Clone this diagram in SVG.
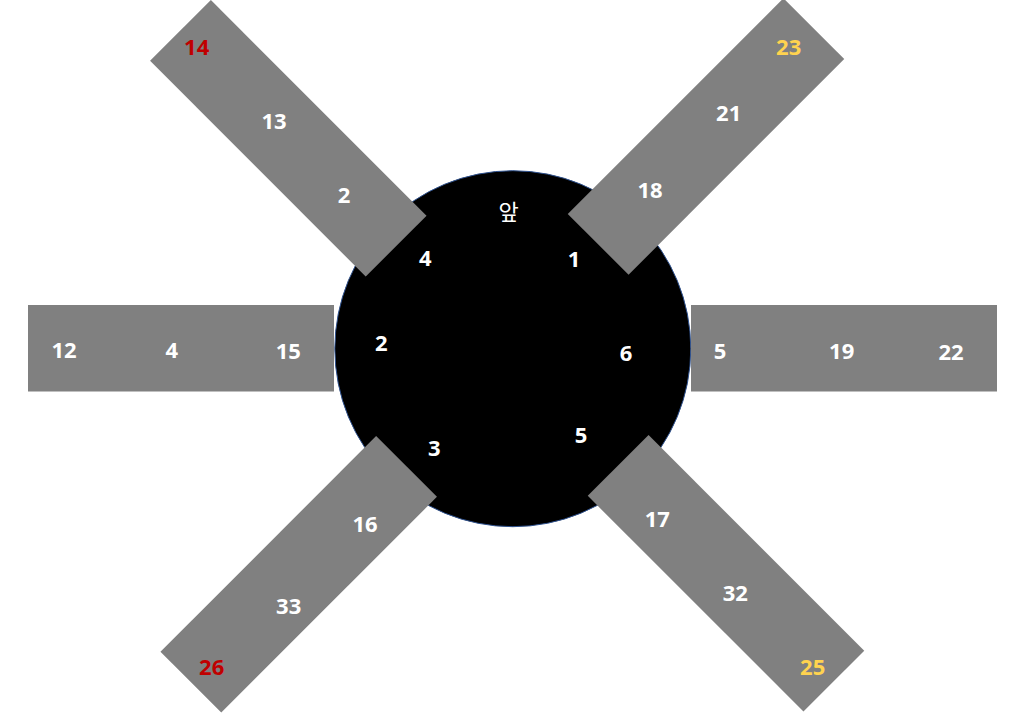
<svg xmlns="http://www.w3.org/2000/svg" width="1016" height="713" viewBox="0 0 1016 713">
<style>
.arm{fill:#808080;}
.t{font-family:"Noto Sans","Noto Sans CJK KR","Liberation Sans",sans-serif;font-size:22px;font-weight:bold;fill:#FFFFFF;text-anchor:middle;}
.red{fill:#C00000;}
.gold{fill:#FFD34F;}
.k{font-family:"Noto Sans CJK KR","Noto Sans",sans-serif;font-size:22px;font-weight:normal;fill:#FFFFFF;text-anchor:middle;}
</style>
<rect width="1016" height="713" fill="#FFFFFF"/>
<g id="hub">
<circle cx="512.8" cy="348.7" r="178" fill="#000000" stroke="#2F528F" stroke-width="1"/>
<text class="k" x="508.5" y="220">앞</text>
<text class="t" x="425.3" y="266.3">4</text>
<text class="t" x="574" y="267">1</text>
<text class="t" x="381.3" y="351.3">2</text>
<text class="t" x="626" y="360.7">6</text>
<text class="t" x="434.3" y="456.3">3</text>
<text class="t" x="581" y="443.3">5</text>
</g>
<g id="arm-top-left">
<rect class="arm" x="-152.5" y="-43" width="305" height="86" transform="translate(288.3,138.3) rotate(45)"/>
<text class="t red" x="196.7" y="54.7">14</text>
<text class="t" x="274" y="128.7">13</text>
<text class="t" x="344" y="203">2</text>
</g>
<g id="arm-top-right">
<rect class="arm" x="-152.5" y="-43" width="305" height="86" transform="translate(706,136.5) rotate(-45)"/>
<text class="t gold" x="788.7" y="54.7">23</text>
<text class="t" x="728.7" y="120.7">21</text>
<text class="t" x="650" y="198">18</text>
</g>
<g id="arm-left">
<rect class="arm" x="28" y="305" width="306" height="86.5"/>
<text class="t" x="64" y="358">12</text>
<text class="t" x="171.7" y="358">4</text>
<text class="t" x="288.3" y="359">15</text>
</g>
<g id="arm-right">
<rect class="arm" x="691" y="305" width="306" height="86.5"/>
<text class="t" x="720" y="359">5</text>
<text class="t" x="841.7" y="359">19</text>
<text class="t" x="951" y="360">22</text>
</g>
<g id="arm-bottom-left">
<rect class="arm" x="-152.5" y="-43" width="305" height="86" transform="translate(298.7,574.3) rotate(-45)"/>
<text class="t" x="365" y="532">16</text>
<text class="t" x="288.7" y="613.7">33</text>
<text class="t red" x="211.7" y="675.3">26</text>
</g>
<g id="arm-bottom-right">
<rect class="arm" x="-152.5" y="-43" width="305" height="86" transform="translate(726,573.3) rotate(45)"/>
<text class="t" x="657.3" y="526.7">17</text>
<text class="t" x="735.3" y="600.7">32</text>
<text class="t gold" x="812.7" y="674.7">25</text>
</g>
</svg>
